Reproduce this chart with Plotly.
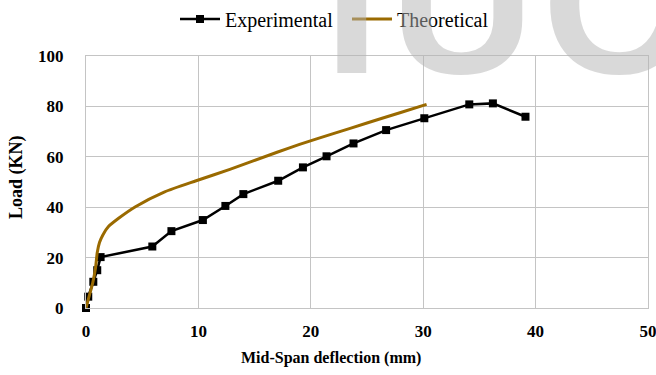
import plotly.graph_objects as go

# Mid-span load-deflection response
exp_deflection = [0.0, 0.2, 0.65, 1.0, 1.3, 5.9, 7.6, 10.4, 12.4, 14.0, 17.1, 19.3, 21.4, 23.8, 26.7, 30.1, 34.1, 36.2, 39.1]
exp_load = [0.0, 4.5, 10.4, 15.0, 20.2, 24.4, 30.5, 34.9, 40.5, 45.2, 50.5, 55.8, 60.2, 65.3, 70.6, 75.3, 80.8, 81.2, 75.9]

theo_deflection = [0.0, 0.3, 0.6, 0.85, 1.0, 1.2, 1.5, 2.0, 2.9, 4.4, 7.0, 9.8, 12.8, 17.0, 19.0, 22.0, 25.0, 28.0, 30.3]
theo_load = [0.0, 5.0, 10.0, 16.0, 22.0, 26.0, 29.0, 32.3, 35.6, 40.2, 46.1, 50.5, 55.0, 61.8, 64.9, 69.2, 73.4, 77.6, 80.8]

x_ticks = [0, 10, 20, 30, 40, 50]
y_ticks = [0, 20, 40, 60, 80, 100]

serif = "Liberation Serif, Times New Roman, serif"
grid = "#c4c4c4"

# plot-area geometry in pixels
L, R, T, B = 86, 648, 56, 308
W, H = 656, 375


def px_x(p):
    return (p - L) / (R - L)


def px_y(p):
    return (B - p) / (B - T)


fig = go.Figure()
fig.add_trace(go.Scatter(
    x=exp_deflection, y=exp_load, name="Experimental",
    mode="lines+markers",
    line=dict(color="black", width=2.5),
    marker=dict(symbol="square", size=8, color="black"),
    cliponaxis=False, legend="legend",
))
fig.add_trace(go.Scatter(
    x=theo_deflection, y=theo_load, name="Theoretical",
    mode="lines",
    line=dict(color="#9a6a00", width=3, shape="spline", smoothing=0.6),
    cliponaxis=False, legend="legend2",
))

# faint publisher mark behind the top of the chart
for letter, xc in [("I", 352), ("U", 462), ("C", 614)]:
    fig.add_annotation(
        text=letter, x=px_x(xc), xref="paper", y=0.758, yref="paper",
        xanchor="center", yanchor="bottom", showarrow=False,
        font=dict(family="Liberation Sans, Arial, sans-serif", size=200,
                  color="rgba(180,180,180,0.5)", weight="bold"),
    )

# axis titles
fig.add_annotation(
    text="<b>Mid-Span deflection (mm)</b>", x=px_x(331), xref="paper", y=px_y(358), yref="paper",
    xanchor="center", yanchor="middle", showarrow=False,
    font=dict(family=serif, size=16, color="black"),
)
fig.add_annotation(
    text="<b>Load (KN)</b>", x=px_x(16), xref="paper", y=px_y(177), yref="paper",
    xanchor="center", yanchor="middle", showarrow=False, textangle=-90,
    font=dict(family=serif, size=18, color="black"),
)

legend_style = dict(
    orientation="h", xanchor="left", yanchor="middle", y=px_y(19),
    font=dict(family=serif, size=20, color="black"),
    bgcolor="rgba(0,0,0,0)", itemwidth=40,
)

axis_style = dict(
    showgrid=True, gridcolor=grid, gridwidth=1,
    zeroline=False, showline=True, mirror=True, linecolor=grid, linewidth=1,
    ticks="", ticklabeloverflow="allow",
    tickfont=dict(family=serif, size=17, color="black", weight="bold"),
)

fig.update_layout(
    width=W, height=H,
    margin=dict(l=L, r=W - R, t=T, b=H - B, autoexpand=False),
    paper_bgcolor="white", plot_bgcolor="white",
    font=dict(family=serif, color="black"),
    showlegend=True,
    legend=dict(legend_style, x=px_x(175)),
    legend2=dict(legend_style, x=px_x(347)),
    xaxis=dict(axis_style, range=[0, 50], tickvals=x_ticks, ticklabelstandoff=8),
    yaxis=dict(axis_style, range=[0, 100], tickvals=y_ticks, ticklabelstandoff=18),
)

fig.write_html("out.html")
